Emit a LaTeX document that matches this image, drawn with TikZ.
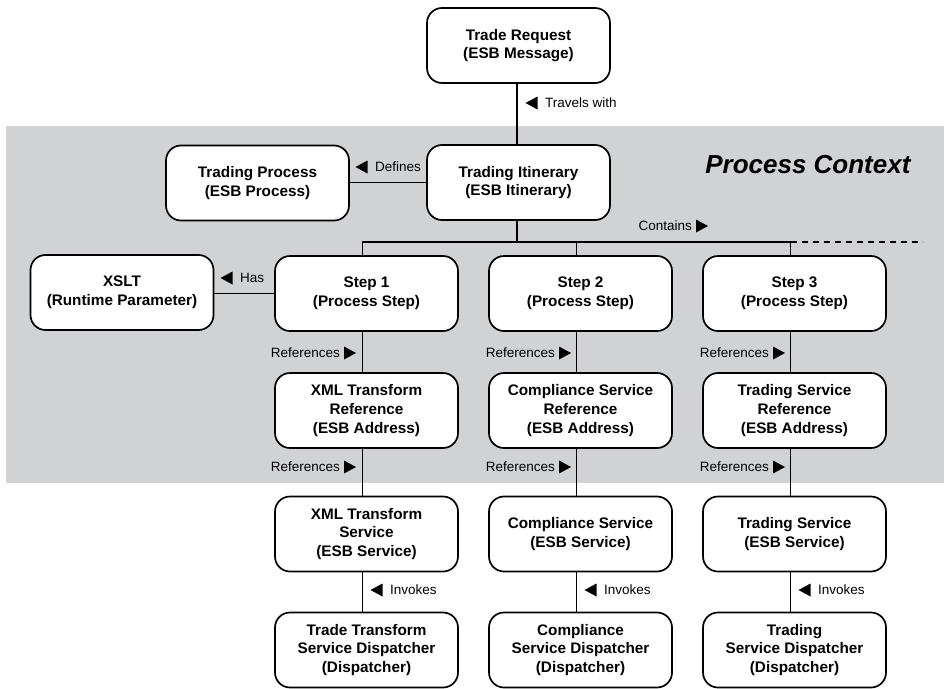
\documentclass[tikz,border=0pt]{standalone}
\usepackage{fontspec}
\setmainfont{Liberation Sans}
\definecolor{bandgray}{RGB}{209,210,212}
% small filled arrowheads placed beside relation labels
\newcommand\reltriL[1]{\fill ([xshift=-7.5pt]#1.west) ++(0,-6.5) -- ++(0,13) -- ++(-12,-6.5) -- cycle;}
\newcommand\reltriR[1]{\fill ([xshift=4pt]#1.east) ++(0,-6.5) -- ++(0,13) -- ++(12,-6.5) -- cycle;}
\begin{document}
\begin{tikzpicture}[x=1pt,y=-1pt,
  entity/.style={draw, line width=1.7pt, rounded corners=15pt, fill=white,
    minimum width=183pt, minimum height=75pt, align=center, inner sep=2pt,
    font=\fontsize{15.3}{18.6}\selectfont\bfseries},
  link/.style={line width=1.5pt},
  rel/.style={inner sep=0pt, font=\fontsize{13.5}{16}\selectfont},
]
\useasboundingbox (0,0) rectangle (944,688);

% process context band
\fill[bandgray] (6,126) rectangle (944,483);
\node[font=\fontsize{26}{30}\selectfont\bfseries\itshape, anchor=east] (pc) at (914,165) {Process Context};

% entities
\node[entity] (tr) at (518.5,45.5) {Trade Request\\(ESB Message)};
\node[entity] (ti) at (518.5,182.5) {Trading Itinerary\\(ESB Itinerary)};
\node[entity] (tp) at (257.5,183) {Trading Process\\(ESB Process)};
\node[entity] (xslt) at (122,292.5) {XSLT\\(Runtime Parameter)};

\node[entity] (s1) at (366.5,293.5) {Step 1\\(Process Step)};
\node[entity] (s2) at (580.5,293.5) {Step 2\\(Process Step)};
\node[entity] (s3) at (794.5,293.5) {Step 3\\(Process Step)};

\node[entity] (r1) at (366.5,410.5) {XML Transform\\Reference\\(ESB Address)};
\node[entity] (r2) at (580.5,410.5) {Compliance Service\\Reference\\(ESB Address)};
\node[entity] (r3) at (794.5,410.5) {Trading Service\\Reference\\(ESB Address)};

\node[entity] (v1) at (366.5,534) {XML Transform\\Service\\(ESB Service)};
\node[entity] (v2) at (580.5,534) {Compliance Service\\(ESB Service)};
\node[entity] (v3) at (794.5,534) {Trading Service\\(ESB Service)};

\node[entity] (d1) at (366.5,650) {Trade Transform\\Service Dispatcher\\(Dispatcher)};
\node[entity] (d2) at (580.5,650) {Compliance\\Service Dispatcher\\(Dispatcher)};
\node[entity] (d3) at (794.5,650) {Trading\\Service Dispatcher\\(Dispatcher)};

% connectors
\coordinate (bus) at (0,242);
\draw[link] ([xshift=-1.5pt]tr.south) -- ([xshift=-1.5pt]ti.north);
\draw[link] (ti.west) -- (tp.east |- ti.west);
\draw[link] ([xshift=-1.5pt]ti.south) -- ([xshift=-1.5pt]ti.south |- bus);
\draw[link] ([xshift=-4pt]s1.north) |- ([xshift=-4pt]s3.north |- bus) -- ([xshift=-4pt]s3.north);
\draw[link] ([xshift=-4pt]s2.north) -- ([xshift=-4pt]s2.north |- bus);
\draw[link, dash pattern=on 6pt off 5pt] ([xshift=-4pt]s3.north |- bus) -- ++(132,0);
\draw[link] (s1.west) -- (xslt.east |- s1.west);
\foreach \c in {1,2,3}{
  \draw[link] ([xshift=-4pt]s\c.south) -- ([xshift=-4pt]r\c.north);
  \draw[link] ([xshift=-4pt]r\c.south) -- ([xshift=-4pt]v\c.north);
  \draw[link] ([xshift=-4pt]v\c.south) -- ([xshift=-4pt]d\c.north);
}

% relation labels
\node[rel, anchor=west] (ltravel) at (545,103) {Travels with};
\reltriL{ltravel}
\node[rel, anchor=west] (ldefines) at (375,167) {Defines};
\reltriL{ldefines}
\node[rel, anchor=east] (lcontains) at (692,226) {Contains};
\reltriR{lcontains}
\node[rel, anchor=west] (lhas) at (240,278) {Has};
\reltriL{lhas}

\node[rel, anchor=east] (lref1a) at (340,353) {References};
\node[rel, anchor=east] (lref2a) at (555,353) {References};
\node[rel, anchor=east] (lref3a) at (769,353) {References};
\node[rel, anchor=east] (lref1b) at (340,467) {References};
\node[rel, anchor=east] (lref2b) at (555,467) {References};
\node[rel, anchor=east] (lref3b) at (769,467) {References};
\foreach \n in {lref1a,lref2a,lref3a,lref1b,lref2b,lref3b}{\reltriR{\n}}

\node[rel, anchor=west] (linv1) at (390,590) {Invokes};
\node[rel, anchor=west] (linv2) at (604,590) {Invokes};
\node[rel, anchor=west] (linv3) at (818,590) {Invokes};
\foreach \n in {linv1,linv2,linv3}{\reltriL{\n}}
\end{tikzpicture}
\end{document}
